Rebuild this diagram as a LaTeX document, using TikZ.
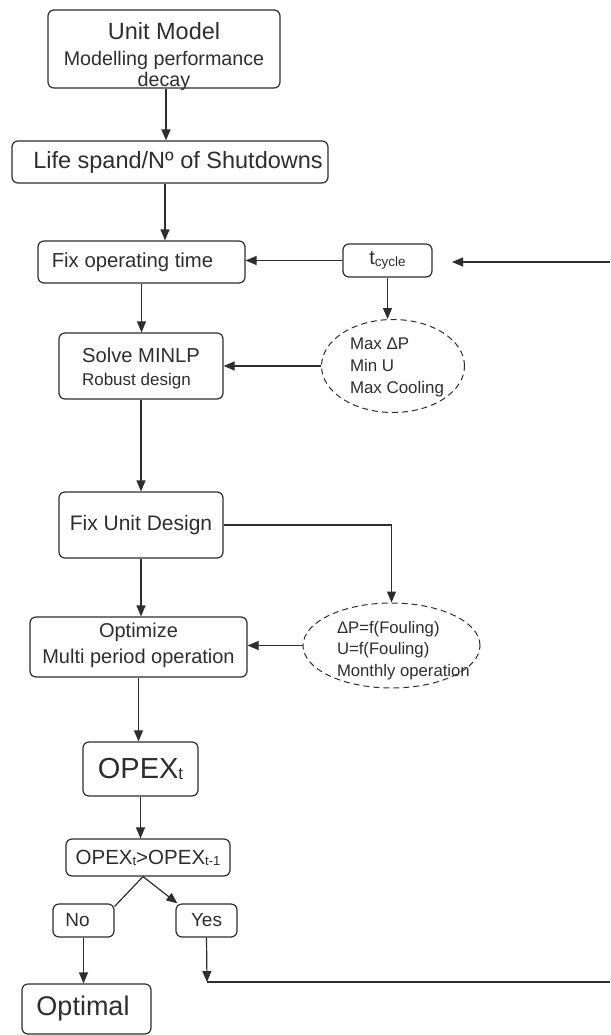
\documentclass[tikz,border=0pt]{standalone}
\usepackage{fontspec}
\setmainfont{Liberation Sans}
\usetikzlibrary{arrows.meta,shapes.geometric}
\definecolor{ink}{HTML}{2E2E2E}
\newcommand{\fsz}[1]{\fontsize{#1pt}{#1pt}\selectfont}
\begin{document}
\begin{tikzpicture}[x=1pt,y=-1pt,
 box/.style={draw=ink,line width=1.2pt,rounded corners=6pt,inner sep=0pt,text=ink},
 ell/.style={draw=ink,line width=1pt,dash pattern=on 6pt off 4pt,ellipse,inner sep=0pt,text=ink},
 arr/.style={draw=ink,line width=1.2pt,-{Triangle[length=11pt,width=9pt]}},
 ln/.style={draw=ink,line width=1.2pt}]
\useasboundingbox (0,0) rectangle (610,1035);
\fill[white] (0,0) rectangle (610,1035);

\node[box,minimum width=232pt,minimum height=78pt,font=\fontsize{19.7pt}{19pt}\selectfont,text height=0pt,text depth=18pt] (unit) at (164,49)
 {\begin{tabular}[t]{@{}c@{}}\fsz{23.5}Unit Model\\[6pt]Modelling performance\\[1pt]decay\end{tabular}};
\node[box,minimum width=316pt,minimum height=42pt] (life) at (170,162) {\fsz{23.5}\hspace*{16pt}Life spand/Nº of Shutdowns};
\node[box,minimum width=207pt,minimum height=42pt] (fixop) at (141.5,262) {\fsz{20.3}Fix operating time\hspace*{18pt}};
\node[box,minimum width=89pt,minimum height=33pt] (tcyc) at (387.5,260.5) {\fsz{20}t\raisebox{-1.5pt}{\fsz{13.5}cycle}};
\node[ell,minimum width=143pt,minimum height=93pt,font=\fontsize{16.9pt}{22pt}\selectfont,text height=0pt,text depth=34pt] (ell1) at (393,366)
 {\makebox[0pt][l]{\hspace*{-43pt}\begin{tabular}[t]{@{}l@{}}Max ΔP\\Min U\\Max Cooling\end{tabular}}};
\node[box,minimum width=164pt,minimum height=66pt,font=\fontsize{17pt}{23pt}\selectfont,text height=0pt,text depth=8pt] (solve) at (141,366)
 {\begin{tabular}[t]{@{}l@{}}\fsz{20.2}Solve MINLP\\Robust design\end{tabular}};
\node[box,minimum width=164pt,minimum height=66pt] (fixunit) at (141,525) {\fsz{21}Fix Unit Design};
\node[ell,minimum width=177pt,minimum height=85pt,font=\fontsize{16.7pt}{21.5pt}\selectfont,text height=0pt,text depth=25pt] (ell2) at (391.5,645.5)
 {\makebox[0pt][l]{\hspace*{-54.5pt}\begin{tabular}[t]{@{}l@{}}ΔP=f(Fouling)\\U=f(Fouling)\\Monthly operation\end{tabular}}};
\node[box,minimum width=217pt,minimum height=60pt,font=\fontsize{20pt}{26pt}\selectfont,text height=0pt,text depth=20pt] (optim) at (138.5,647)
 {\begin{tabular}[t]{@{}c@{}}Optimize\\Multi period operation\end{tabular}};
\node[box,minimum width=115pt,minimum height=54pt] (opex) at (140.5,769) {\fsz{29}OPEX\raisebox{-1pt}{\fsz{17}t}};
\node[box,minimum width=164pt,minimum height=37pt] (comp) at (148,857.5) {\fsz{20.5}OPEX\raisebox{-1pt}{\fsz{13}t}>OPEX\raisebox{-1pt}{\fsz{13}t-1}};
\node[box,minimum width=61pt,minimum height=33pt] (no) at (83.5,920.5) {\fsz{19}No\hspace*{12pt}};
\node[box,minimum width=61pt,minimum height=33pt] (yes) at (206.5,920.5) {\fsz{19}Yes};
\node[box,minimum width=129pt,minimum height=50pt] (optimal) at (86.5,1009) {\fsz{27}Optimal\hspace*{7pt}};

\coordinate (loopTop) at (610,262);
\coordinate (loopTip) at (452,262);
\coordinate (yesTurn) at (207,982);
\coordinate (loopBot) at (610,982);

\draw[arr] ([xshift=2pt]unit.south) -- ([xshift=2pt]unit.south |- life.north);
\draw[arr] ([xshift=-5pt]life.south) -- ([xshift=-5pt]life.south |- fixop.north);
\draw[arr] (tcyc.west) -- (tcyc.west -| fixop.east);
\draw[arr] (loopTop) -- (loopTip);
\draw[arr] (tcyc.south) -- (tcyc.south |- ell1.north);
\draw[arr] (fixop.south) -- (fixop.south |- solve.north);
\draw[arr] (ell1.west) -- (ell1.west -| solve.east);
\draw[arr] (solve.south) -- (fixunit.north);
\draw[arr] (fixunit.east) -| (ell2.north);
\draw[arr] (fixunit.south) -- (fixunit.south |- optim.north);
\draw[arr] (ell2.west) -- (ell2.west -| optim.east);
\draw[arr] (optim.south) -- (optim.south |- opex.north);
\draw[arr] (opex.south) -- (opex.south |- comp.north);
\draw[ln] ([xshift=-5pt]comp.south) -- ([yshift=-3pt]no.north east);
\draw[arr] ([xshift=-5pt]comp.south) -- ([xshift=2pt]yes.north west);
\draw[arr] (no.south) -- (no.south |- optimal.north);
\draw[arr] (yes.south) -- (yesTurn);
\draw[ln] (yesTurn) -- (loopBot);
\end{tikzpicture}
\end{document}
